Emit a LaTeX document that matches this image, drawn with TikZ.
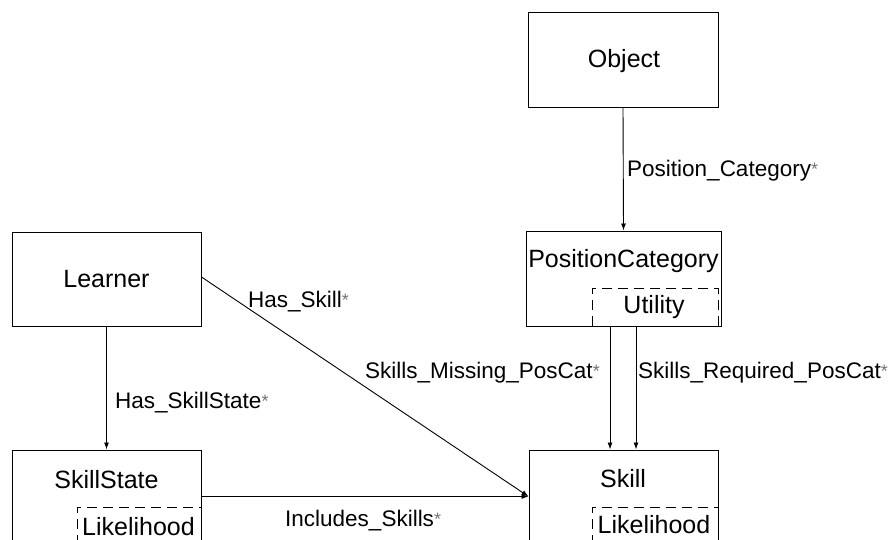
\documentclass[tikz,border=0pt]{standalone}
\usepackage{fontspec}
\setmainfont{Liberation Sans}
\usetikzlibrary{arrows.meta,calc}
\newcommand\mstar{{\color{black!55}\fontsize{18}{18}\selectfont\raisebox{1pt}{*}}}
\begin{document}
\begin{tikzpicture}[x=1pt,y=-1pt,
  cls/.style={draw, line width=1pt, inner sep=0pt},
  ctext/.style={font=\fontsize{25}{27}\selectfont, inner sep=0pt, anchor=base},
  lbl/.style={font=\fontsize{22.5}{24}\selectfont, inner sep=0pt, anchor=base west},
  attr/.style={line width=0.9pt, dash pattern=on 10pt off 6pt},
  conn/.style={line width=0.9pt, -{Latex[length=7pt,width=5pt]}}]
\useasboundingbox (0,0) rectangle (896,539);
\clip (0,0) rectangle (896,539);
% class boxes
\node[cls, minimum width=190pt, minimum height=95pt] (obj) at (623,59.5) {};
\node[cls, minimum width=189pt, minimum height=94pt] (ln) at (106.5,279) {};
\node[cls, minimum width=195pt, minimum height=95pt] (pc) at (623.5,278.5) {};
\node[cls, minimum width=189pt, minimum height=150pt] (ss) at (106.5,525) {};
\node[cls, minimum width=189pt, minimum height=150pt] (sk) at (623.5,525) {};
% class names
\node[ctext] (objt) at (624,67) {Object};
\node[ctext] (lnt) at (106.5,287) {Learner};
\node[ctext] (pct) at (623.5,267) {PositionCategory};
\node[ctext] (sst) at (106.5,488) {SkillState};
\node[ctext] (skt) at (623,487) {Skill};
% attributes
\draw[attr] (592,326) |- (718,288) -- (718,326);
\node[ctext] (ut) at (654,313) {Utility};
\draw[attr] (77,545) |- (201,507) -- (201,545);
\node[ctext] (lh1) at (138.5,535) {Likelihood};
\draw[attr] (592,545) |- (718,507) -- (718,545);
\node[ctext] (lh2) at (654,533) {Likelihood};
% connectors
\draw[conn] (obj.south) -- (pc.north);
\draw[conn] (ln.south) -- (ss.north);
\draw[conn] ($(pc.south)+(-13.5,0)$) -- ($(sk.north)+(-13.5,0)$);
\draw[conn] ($(pc.south)+(12.5,0)$) -- ($(sk.north)+(12.5,0)$);
\draw[conn] ($(ss.north east)+(0,47)$) -- ($(sk.north west)+(0,47)$);
\draw[conn] ($(ln.east)+(0,-2)$) -- ($(sk.north west)+(0,47)$);
% labels
\node[lbl] (l1) at (627,176) {Position\_Category\mstar};
\node[lbl] (l2) at (248,307) {Has\_Skill\mstar};
\node[lbl] (l3) at (365,378) {Skills\_Missing\_PosCat\mstar};
\node[lbl] (l4) at (638,378) {Skills\_Required\_PosCat\mstar};
\node[lbl] (l5) at (115,408) {Has\_SkillState\mstar};
\node[lbl] (l6) at (285,526) {Includes\_Skills\mstar};
\end{tikzpicture}
\end{document}
